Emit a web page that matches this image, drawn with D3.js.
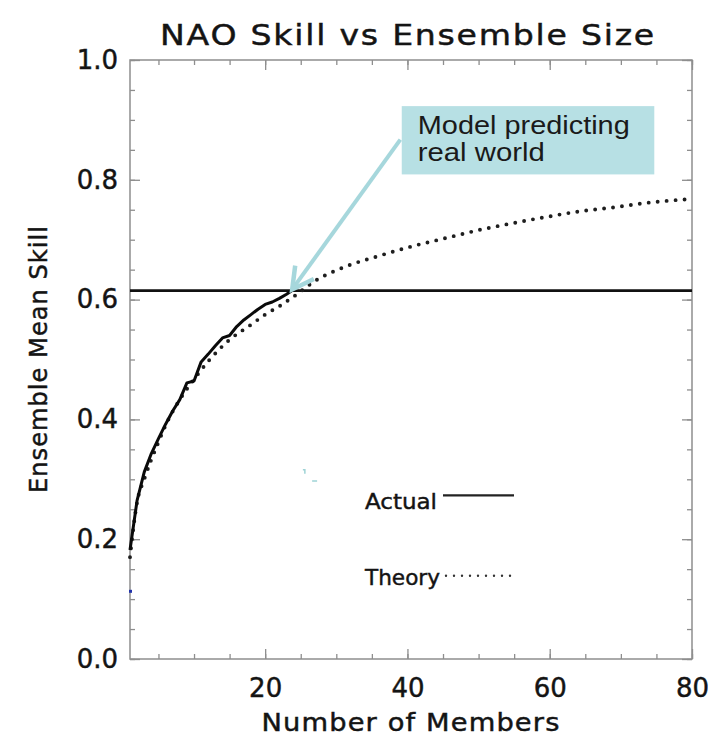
<!DOCTYPE html>
<html>
<head>
<meta charset="utf-8">
<script src="https://cdn.jsdelivr.net/npm/d3@7"></script>
<style>
  html, body { margin: 0; padding: 0; background: #fff; }
  svg { display: block; }
</style>
</head>
<body>
<svg id="chart" width="712" height="736"></svg>
<script>
// Ensemble mean skill of the NAO as a function of ensemble size
const actualMembers = [1, 2, 3, 4, 5, 6, 7, 8, 9, 10, 11, 12, 13, 14, 15, 16, 17, 18, 19, 20, 21, 22, 23, 24];
const actualSkill   = [0.182, 0.265, 0.312, 0.343, 0.368, 0.392, 0.414, 0.433, 0.461, 0.464, 0.496, 0.509,
                       0.523, 0.536, 0.540, 0.555, 0.566, 0.575, 0.584, 0.592, 0.596, 0.602, 0.609, 0.617];

const theoryMembers = [1, 2, 3, 4, 5, 6, 8, 10, 12, 15, 18, 20, 22, 24, 27, 31.5, 36, 41, 45.5, 50, 55, 60, 64, 69, 74, 80];
const theorySkill   = [0.170, 0.262, 0.300, 0.333, 0.362, 0.390, 0.433, 0.467, 0.497, 0.533, 0.558, 0.575,
                       0.589, 0.605, 0.631, 0.656, 0.673, 0.690, 0.703, 0.716, 0.728, 0.739, 0.747, 0.754, 0.762, 0.768];

// Observed (real world) skill level
const observedSkill = 0.615;

const xTicksMajor = [20, 40, 60, 80];
const yTicksMajor = [0.0, 0.2, 0.4, 0.6, 0.8, 1.0];
const xDomain = [1, 80];
const yDomain = [0, 1];

const titleText = "NAO Skill vs Ensemble Size";
const xTitle = "Number of Members";
const yTitle = "Ensemble Mean Skill";
const legendLabels = ["Actual", "Theory"];
const noteLines = ["Model predicting", "real world"];

// Note box corners and arrow tip, in data units
const noteBox = { x0: 39.2, x1: 74.7, y0: 0.923, y1: 0.809 };
const arrowTip = { x: 23.8, y: 0.617 };
const arrowTail = { x: 39.0, y: 0.867 };

const svg = d3.select("#chart");
const plotLeft = 130, plotRight = 692, plotTop = 60, plotBottom = 659;

const x = d3.scaleLinear().domain(xDomain).range([plotLeft, plotRight]);
const y = d3.scaleLinear().domain(yDomain).range([plotBottom, plotTop]);

const frameColor = "#8e8e8e";
const textColor = "#141414";
const hershey = "'DejaVu Sans', sans-serif";

// Plot-font text: slightly heavier strokes and wide glyphs
function plotText(sel, size) {
  return sel.attr("font-family", hershey).attr("font-size", size)
    .attr("fill", textColor).attr("stroke", textColor).attr("stroke-width", 0.45);
}

// Title
svg.append("text")
  .attr("x", 408).attr("y", 45)
  .attr("text-anchor", "middle")
  .call(plotText, 28)
  .attr("letter-spacing", 1.5)
  .attr("textLength", 496).attr("lengthAdjust", "spacingAndGlyphs")
  .text(titleText);

// Frame
svg.append("rect")
  .attr("x", plotLeft).attr("y", plotTop)
  .attr("width", plotRight - plotLeft).attr("height", plotBottom - plotTop)
  .attr("fill", "none").attr("stroke", frameColor).attr("stroke-width", 1.5);

function styleAxis(g) {
  g.select(".domain").remove();
  g.selectAll(".tick line").attr("stroke", frameColor).attr("stroke-width", 1.3);
  g.selectAll(".tick text").call(plotText, 26);
}

const yMinor = d3.range(0, 1.0001, 0.05);
const xMinor = d3.range(5, 80.001, 5);

// Left axis: major ticks with labels, minor ticks without
svg.append("g").attr("transform", `translate(${plotLeft},0)`)
  .call(d3.axisLeft(y).tickValues(yMinor).tickSize(-5).tickFormat(""))
  .call(styleAxis);
svg.append("g").attr("transform", `translate(${plotLeft},0)`)
  .call(d3.axisLeft(y).tickValues(yTicksMajor).tickSize(-10).tickPadding(12).tickFormat(d3.format(".1f")))
  .call(styleAxis);

// Right axis ticks
svg.append("g").attr("transform", `translate(${plotRight},0)`)
  .call(d3.axisRight(y).tickValues(yMinor).tickSize(-5).tickFormat(""))
  .call(styleAxis);
svg.append("g").attr("transform", `translate(${plotRight},0)`)
  .call(d3.axisRight(y).tickValues(yTicksMajor).tickSize(-10).tickFormat(""))
  .call(styleAxis);

// Bottom axis
svg.append("g").attr("transform", `translate(0,${plotBottom})`)
  .call(d3.axisBottom(x).tickValues(xMinor).tickSize(-5).tickFormat(""))
  .call(styleAxis);
svg.append("g").attr("transform", `translate(0,${plotBottom})`)
  .call(d3.axisBottom(x).tickValues(xTicksMajor).tickSize(-10).tickPadding(20).tickFormat(d3.format("d")))
  .call(styleAxis);

// Top axis ticks
svg.append("g").attr("transform", `translate(0,${plotTop})`)
  .call(d3.axisTop(x).tickValues(xMinor).tickSize(-5).tickFormat(""))
  .call(styleAxis);
svg.append("g").attr("transform", `translate(0,${plotTop})`)
  .call(d3.axisTop(x).tickValues(xTicksMajor).tickSize(-10).tickFormat(""))
  .call(styleAxis);

// Axis titles
svg.append("text")
  .attr("x", 411).attr("y", 731)
  .attr("text-anchor", "middle")
  .call(plotText, 24)
  .attr("letter-spacing", 1)
  .attr("textLength", 299).attr("lengthAdjust", "spacingAndGlyphs")
  .text(xTitle);

svg.append("text")
  .attr("transform", "translate(47,359) rotate(-90)")
  .attr("text-anchor", "middle")
  .call(plotText, 24)
  .attr("letter-spacing", 1)
  .attr("textLength", 268).attr("lengthAdjust", "spacingAndGlyphs")
  .text(yTitle);

// Observed skill: horizontal line across the plot
svg.append("line")
  .attr("x1", x(xDomain[0])).attr("x2", x(xDomain[1]))
  .attr("y1", y(observedSkill)).attr("y2", y(observedSkill))
  .attr("stroke", "#111").attr("stroke-width", 2.6);

// Theory curve (dotted)
const theoryData = theoryMembers.map((m, i) => [m, theorySkill[i]]);
svg.append("path")
  .datum(theoryData)
  .attr("d", d3.line().x(d => x(d[0])).y(d => y(d[1])).curve(d3.curveMonotoneX))
  .attr("fill", "none").attr("stroke", "#1e1e1e")
  .attr("stroke-width", 3.9).attr("stroke-linecap", "round")
  .attr("stroke-dasharray", "0 9");

// Actual curve (solid)
const actualData = actualMembers.map((m, i) => [m, actualSkill[i]]);
svg.append("path")
  .datum(actualData)
  .attr("d", d3.line().x(d => x(d[0])).y(d => y(d[1])))
  .attr("fill", "none").attr("stroke", "#0a0a0a")
  .attr("stroke-width", 3).attr("stroke-linejoin", "round");

// Small stray marks
svg.append("rect").attr("x", x(1) - 1).attr("y", y(0.113) - 1.5)
  .attr("width", 3).attr("height", 3).attr("fill", "#2233aa");
svg.append("path")
  .attr("d", `M${x(25.3)},${y(0.316)} l2,0 l0,4 M${x(26.6)},${y(0.297)} l5,0`)
  .attr("stroke", "#9fd3d6").attr("stroke-width", 1.5).attr("fill", "none");

// Legend
const legendY = [0.273, 0.139];
const legendG = svg.append("g");
legendG.append("text")
  .attr("x", 365).attr("y", y(legendY[0]) + 14)
  .call(plotText, 22)
  .attr("textLength", 72).attr("lengthAdjust", "spacingAndGlyphs")
  .text(legendLabels[0]);
legendG.append("line")
  .attr("x1", 443).attr("x2", 514)
  .attr("y1", y(legendY[0])).attr("y2", y(legendY[0]))
  .attr("stroke", "#222").attr("stroke-width", 2.2);
legendG.append("text")
  .attr("x", 365).attr("y", y(legendY[1]) + 9)
  .call(plotText, 22)
  .attr("textLength", 75).attr("lengthAdjust", "spacingAndGlyphs")
  .text(legendLabels[1]);
legendG.append("line")
  .attr("x1", 446).attr("x2", 512)
  .attr("y1", y(legendY[1])).attr("y2", y(legendY[1]))
  .attr("stroke", "#333").attr("stroke-width", 2.4)
  .attr("stroke-linecap", "round").attr("stroke-dasharray", "0 8");

// Annotation box with arrow
const teal = "#b7e0e4";
const arrowColor = "#a6d7dc";
svg.append("rect")
  .attr("x", x(noteBox.x0)).attr("y", y(noteBox.y0))
  .attr("width", x(noteBox.x1) - x(noteBox.x0))
  .attr("height", y(noteBox.y1) - y(noteBox.y0))
  .attr("fill", teal);
const noteText = svg.append("text")
  .attr("font-family", "'Liberation Sans', Arial, sans-serif")
  .attr("font-size", 25).attr("fill", "#1a1a1a");
const noteWidths = [212, 127];
noteLines.forEach((t, i) => {
  noteText.append("tspan")
    .attr("x", x(noteBox.x0) + 16).attr("y", y(noteBox.y0) + 28 + i * 27)
    .attr("textLength", noteWidths[i]).attr("lengthAdjust", "spacingAndGlyphs")
    .text(t);
});

const tipX = x(arrowTip.x), tipY = y(arrowTip.y);
const tailX = x(arrowTail.x), tailY = y(arrowTail.y);
svg.append("line")
  .attr("x1", tailX).attr("y1", tailY).attr("x2", tipX).attr("y2", tipY)
  .attr("stroke", arrowColor).attr("stroke-width", 4);
const ang = Math.atan2(tailY - tipY, tailX - tipX);
const barb = 24, spread = 0.5;
svg.append("path")
  .attr("d", `M${tipX + barb * Math.cos(ang - spread)},${tipY + barb * Math.sin(ang - spread)}
              L${tipX},${tipY}
              L${tipX + barb * Math.cos(ang + spread)},${tipY + barb * Math.sin(ang + spread)}`)
  .attr("fill", "none").attr("stroke", arrowColor).attr("stroke-width", 4.5)
  .attr("stroke-linejoin", "miter");
</script>
</body>
</html>
